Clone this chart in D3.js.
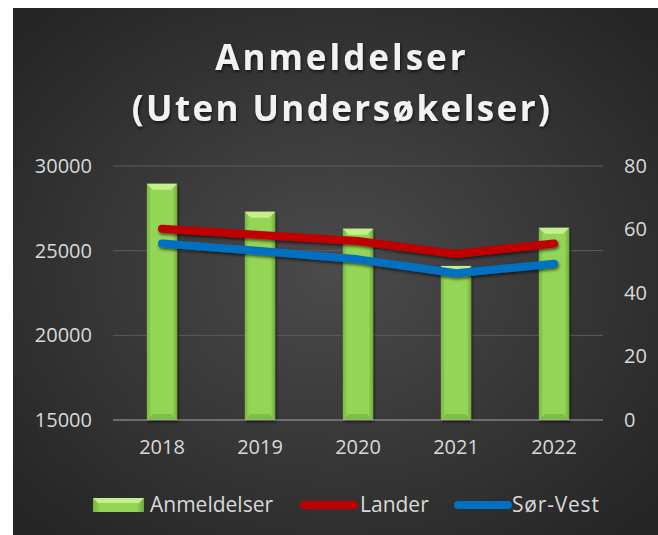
<!DOCTYPE html>
<html><head><meta charset="utf-8">
<script src="https://cdn.jsdelivr.net/npm/d3@7"></script>
<style>
html,body{margin:0;padding:0;background:#fff;}
svg{display:block;}
text{font-family:"Open Sans",sans-serif;}
</style></head>
<body>
<svg id="c" width="658" height="535"></svg>
<script>
const years = ["2018","2019","2020","2021","2022"];
const anmeldelser = [28950, 27300, 26300, 24100, 26350];
const lander = [60.2, 58.3, 56.4, 52.3, 55.6];
const sorVest = [55.6, 53.2, 50.6, 46.2, 49.2];
const leftTicks = [15000, 20000, 25000, 30000];
const rightTicks = [0, 20, 40, 60, 80];
const titleLines = ["Anmeldelser", "(Uten Undersøkelser)"];
const legendNames = ["Anmeldelser", "Lander", "Sør-Vest"];

const svg = d3.select("#c");
const defs = svg.append("defs");

const bg = defs.append("radialGradient").attr("id","bg")
  .attr("cx","50%").attr("cy","50%").attr("r","65%");
bg.append("stop").attr("offset","0%").attr("stop-color","#4b4b4b");
bg.append("stop").attr("offset","100%").attr("stop-color","#262626");

const bar = defs.append("linearGradient").attr("id","barg").attr("x1","0").attr("x2","1");
bar.append("stop").attr("offset","0%").attr("stop-color","#76b443");
bar.append("stop").attr("offset","15%").attr("stop-color","#94d554");
bar.append("stop").attr("offset","85%").attr("stop-color","#94d554");
bar.append("stop").attr("offset","100%").attr("stop-color","#6fa83d");

const sh = defs.append("filter").attr("id","sh").attr("x","-20%").attr("y","-20%").attr("width","140%").attr("height","160%");
sh.append("feDropShadow").attr("dx",1).attr("dy",2).attr("stdDeviation",1.5).attr("flood-color","#000").attr("flood-opacity",0.6);

svg.append("rect").attr("x",13).attr("y",8).attr("width",645).attr("height",527).attr("fill","url(#bg)");

const x = d3.scaleBand().domain(years).range([113,603]).paddingInner(0.69).paddingOuter(0.345);
const yL = d3.scaleLinear().domain([15000,30000]).range([420,166]);
const yR = d3.scaleLinear().domain([0,80]).range([420,166]);

// grid
svg.append("g").selectAll("line").data(leftTicks.slice(1)).join("line")
  .attr("x1",113).attr("x2",603).attr("y1",d=>yL(d)).attr("y2",d=>yL(d))
  .attr("stroke","#5c5c5c").attr("stroke-width",1);

// left axis
const la = svg.append("g").attr("transform","translate(92,0)")
  .call(d3.axisLeft(yL).tickValues(leftTicks).tickSize(0).tickPadding(0).tickFormat(d3.format("d")));
la.select(".domain").remove();
la.selectAll("text").attr("fill","#d9d9d9").attr("font-size",20).attr("font-family","Open Sans");

// right axis
const ra = svg.append("g").attr("transform","translate(624,0)")
  .call(d3.axisRight(yR).tickValues(rightTicks).tickSize(0).tickPadding(0));
ra.select(".domain").remove();
ra.selectAll("text").attr("fill","#d9d9d9").attr("font-size",20).attr("font-family","Open Sans");

// bars
const bw = x.bandwidth();
const bars = svg.append("g").selectAll("g").data(years).join("g").attr("filter","url(#sh)");
bars.append("rect").attr("x",d=>x(d)).attr("y",(d,i)=>yL(anmeldelser[i]))
  .attr("width",bw).attr("height",(d,i)=>420-yL(anmeldelser[i])).attr("fill","url(#barg)");
bars.append("path").attr("d",(d,i)=>{
  const x0=x(d), y0=yL(anmeldelser[i]), b=6;
  return `M${x0},${y0}L${x0+bw},${y0}L${x0+bw-b},${y0+b}L${x0+b},${y0+b}Z`;
}).attr("fill","#c6ee8f");
bars.append("path").attr("d",(d,i)=>{
  const x0=x(d), y1=420, b=6;
  return `M${x0},${y1}L${x0+bw},${y1}L${x0+bw-b},${y1-b}L${x0+b},${y1-b}Z`;
}).attr("fill","#7fbd48");

// baseline
svg.append("line").attr("x1",113).attr("x2",603).attr("y1",420).attr("y2",420)
  .attr("stroke","#a6a6a6").attr("stroke-width",1.2);

// x axis
const xa = svg.append("g").attr("transform","translate(0,438)")
  .call(d3.axisBottom(x).tickSize(0).tickPadding(0));
xa.select(".domain").remove();
xa.selectAll("text").attr("fill","#d9d9d9").attr("font-size",20).attr("dy","0.8em").attr("font-family","Open Sans");

// lines
const line = d3.line().x((d,i)=>x(years[i])+bw/2).y(d=>yR(d));
svg.append("path").datum(lander).attr("d",line).attr("fill","none")
  .attr("stroke","#c00000").attr("stroke-width",8).attr("stroke-linecap","round").attr("stroke-linejoin","round").attr("filter","url(#sh)");
svg.append("path").datum(sorVest).attr("d",line).attr("fill","none")
  .attr("stroke","#0070c0").attr("stroke-width",8).attr("stroke-linecap","round").attr("stroke-linejoin","round").attr("filter","url(#sh)");

// title
const t = svg.append("text").attr("text-anchor","middle").attr("fill","#f2f2f2")
  .attr("font-size",35).attr("font-weight","bold").attr("filter","url(#sh)");
titleLines.forEach((s,i)=>t.append("tspan").attr("x",342).attr("y",70+i*51)
  .attr("letter-spacing", i===0 ? 3 : 2.4).text(s));

// legend
const lg = svg.append("g");
lg.append("rect").attr("x",93).attr("y",498).attr("width",51).attr("height",14).attr("fill","url(#barg)");
lg.append("path").attr("d","M93,498L144,498L139,503L98,503Z").attr("fill","#c6ee8f");
lg.append("text").attr("x",150).attr("y",512).text(legendNames[0]);
lg.append("line").attr("x1",304).attr("x2",354).attr("y1",505).attr("y2",505)
  .attr("stroke","#c00000").attr("stroke-width",8).attr("stroke-linecap","round");
lg.append("text").attr("x",360).attr("y",512).text(legendNames[1]);
lg.append("line").attr("x1",458).attr("x2",508).attr("y1",505).attr("y2",505)
  .attr("stroke","#0070c0").attr("stroke-width",8).attr("stroke-linecap","round");
lg.append("text").attr("x",512).attr("y",512).attr("letter-spacing",0.8).text(legendNames[2]);
lg.selectAll("text").attr("fill","#d9d9d9").attr("font-size",21);
</script>
</body></html>
